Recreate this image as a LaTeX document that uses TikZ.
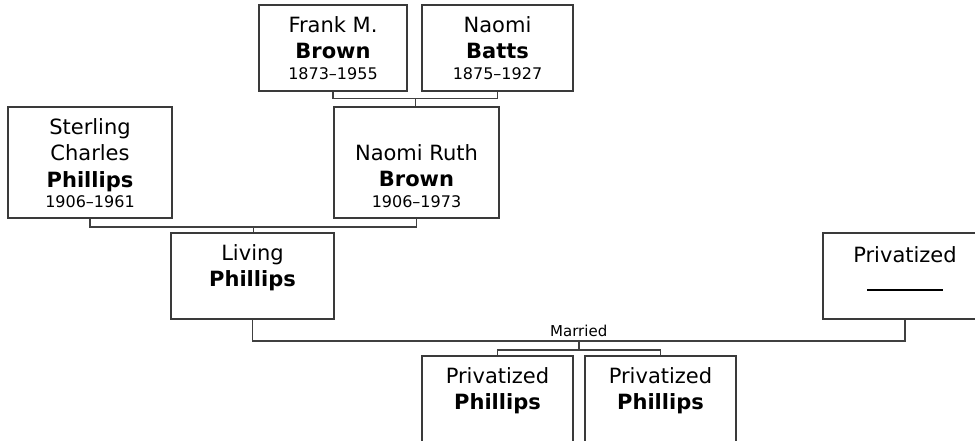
\documentclass[tikz,border=0pt]{standalone}
\usepackage{fontspec}
\setmainfont{DejaVu Sans}
\usetikzlibrary{calc}
\definecolor{boxc}{HTML}{3A3A3A}
\definecolor{linec}{HTML}{404040}
\tikzset{
  person/.style={draw=boxc, line width=1.5pt, rectangle, inner sep=0pt, fill=white},
  ptext/.style={anchor=north, inner sep=0pt, align=center, font=\fontsize{21}{26.5}\selectfont},
  link/.style={draw=linec, line width=1.5pt},
}
\newcommand{\lifespan}[1]{{\fontsize{16}{16}\selectfont #1}}
\begin{document}
\begin{tikzpicture}[x=1pt,y=-1pt]
\useasboundingbox (0,0) rectangle (975,441);
\fill[white] (0,0) rectangle (975,441);
\begin{scope}
\clip (0,0) rectangle (975,441);
% boxes
\node[person, minimum width=148pt, minimum height=86pt] (frank) at (333,48) {};
\node[person, minimum width=151pt, minimum height=86pt] (batts) at (497.5,48) {};
\node[person, minimum width=164pt, minimum height=111pt] (sterling) at (90,162.5) {};
\node[person, minimum width=165pt, minimum height=111pt] (ruth) at (416.5,162.5) {};
\node[person, minimum width=163pt, minimum height=86pt] (living) at (252.5,276) {};
\node[person, minimum width=164pt, minimum height=86pt] (priv) at (905,276) {};
\node[person, minimum width=151pt, minimum height=86pt] (child1) at (497.5,399) {};
\node[person, minimum width=151pt, minimum height=86pt] (child2) at (660.5,399) {};
% texts
\node[ptext] (frank-t) at ($(frank.north)+(0,12)$) {Frank M.\\\textbf{Brown}\\[-6pt]\lifespan{1873–1955}};
\node[ptext] (batts-t) at ($(batts.north)+(0,12)$) {Naomi\\\textbf{Batts}\\[-6pt]\lifespan{1875–1927}};
\node[ptext] (sterling-t) at ($(sterling.north)+(0,12)$) {Sterling\\Charles\\\textbf{Phillips}\\[-6pt]\lifespan{1906–1961}};
\node[ptext] (ruth-t) at ($(ruth.north)+(0,38)$) {Naomi Ruth\\\textbf{Brown}\\[-6pt]\lifespan{1906–1973}};
\node[ptext] (living-t) at ($(living.north)+(0,12)$) {Living\\\textbf{Phillips}};
\node[ptext] (priv-t) at ($(priv.north)+(0,14)$) {Privatized\\\rule[-2pt]{76pt}{1.5pt}};
\node[ptext] (child1-t) at ($(child1.north)+(0,12)$) {Privatized\\\textbf{Phillips}};
\node[ptext] (child2-t) at ($(child2.north)+(0,12)$) {Privatized\\\textbf{Phillips}};
% connectors
\draw[link] (frank.south) -- ++(0,7) coordinate (fa) -| (batts.south);
\coordinate (fbj) at ($(fa)!0.5!(fa -| batts.south)$);
\draw[link] (fbj) -- (fbj |- ruth.north);
\draw[link] (sterling.south) -- ++(0,8) coordinate (sa) -| (ruth.south);
\coordinate (srj) at ($(sa)!0.5!(sa -| ruth.south)$);
\draw[link] (srj) -- (srj |- living.north);
\draw[link] (living.south) -- ++(0,21) coordinate (la) -| (priv.south);
\coordinate (lpj) at ($(la)!0.5!(la -| priv.south)$);
\node[anchor=base, inner sep=0pt, font=\fontsize{15}{15}\selectfont] (married) at ($(lpj)+(0,-4.5)$) {Married};
\draw[link] (lpj) -- ++(0,9) coordinate (cj);
\draw[link] (child1.north) -- (child1.north |- cj) -- (child2.north |- cj) -- (child2.north);
\end{scope}
\end{tikzpicture}
\end{document}
